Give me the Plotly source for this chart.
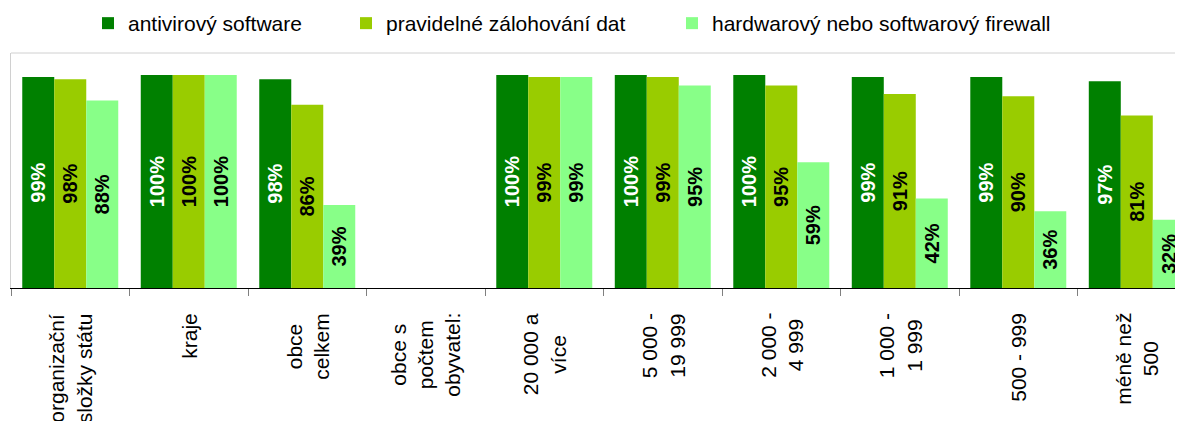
import plotly.graph_objects as go

categories = ["organizační složky státu", "kraje", "obce celkem", "obce s počtem obyvatel:",
              "20 000 a více", "5 000 - 19 999", "2 000 - 4 999", "1 000 - 1 999",
              "500 - 999", "méně než 500"]
tick_labels = ["organizační<br>složky státu", "kraje", "obce<br>celkem", "obce s<br>počtem<br>obyvatel:",
               "20 000 a<br>více", "5 000 -<br>19 999", "2 000 -<br>4 999", "1 000 -<br>1 999",
               "500 - 999", "méně než<br>500"]
series_names = ["antivirový software", "pravidelné zálohování dat",
                "hardwarový nebo softwarový firewall"]
antivir = [99, 100, 98, None, 100, 100, 100, 99, 99, 97]
zalohovani = [98, 100, 86, None, 99, 99, 95, 91, 90, 81]
firewall = [88, 100, 39, None, 99, 95, 59, 42, 36, 32]

colors = ["#008000", "#99CC00", "#88FF88"]
text_colors = ["white", "black", "black"]
FONT = "Liberation Sans, Arial, sans-serif"

OFF = 8  # default page body margin
W, H = 1183 - OFF, 421 - OFF
L, R, T, B = 11 - OFF, 0, 53 - OFF, 133
plot_w = W - L - R
plot_h = H - T - B

def px_x(p):
    return (p - OFF - L) / plot_w

def px_y(p):
    return (H - B + OFF - p) / plot_h

fig = go.Figure()
legend_ids = ["legend", "legend2", "legend3"]
for name, vals, col, tc, lg in zip(series_names, [antivir, zalohovani, firewall], colors, text_colors, legend_ids):
    fig.add_trace(go.Bar(
        x=categories, y=vals, name=name, legend=lg,
        marker=dict(color=col, line=dict(width=0)),
        text=[f"{v}%" if v is not None else None for v in vals],
        textposition="inside", insidetextanchor="middle", textangle=-90,
        constraintext="none",
        textfont=dict(family=FONT, size=20, color=tc, weight="bold"),
        hoverinfo="skip",
    ))

legend_text_px = [128, 386, 712]
legend_common = dict(orientation="h", xanchor="left", yanchor="middle",
                     font=dict(family=FONT, size=21, color="black"),
                     bgcolor="rgba(0,0,0,0)", borderwidth=0)
layout_legends = {}
for lg, tx in zip(legend_ids, legend_text_px):
    layout_legends[lg] = dict(x=px_x(tx - 40), y=px_y(23.5), **legend_common)

annotations = []
for cat, lab in zip(categories, tick_labels):
    annotations.append(dict(
        x=cat, xref="x", y=px_y(311), yref="paper",
        text=lab, showarrow=False, textangle=-90,
        xanchor="center", yanchor="top", align="center",
        font=dict(family=FONT, size=21, color="black"),
    ))

fig.update_layout(
    width=W, height=H,
    margin=dict(l=L, r=R, t=T, b=B, autoexpand=False),
    paper_bgcolor="white", plot_bgcolor="white",
    barmode="group", bargap=0.19, bargroupgap=0,
    showlegend=True,
    annotations=annotations,
    shapes=[dict(type="line", xref="paper", yref="paper", x0=0, x1=1, y0=1, y1=1,
                 line=dict(color="#D0D0D0", width=1))],
    xaxis=dict(type="category", range=[-0.5, 9.39], showticklabels=False,
               showline=True, linecolor="black", linewidth=1,
               ticks="outside", tickson="boundaries", ticklen=7, tickcolor="#808080",
               showgrid=False, zeroline=False, fixedrange=True),
    yaxis=dict(range=[0, 110.3], showticklabels=False, showgrid=False, zeroline=False,
               showline=True, linecolor="#D0D0D0", linewidth=1, ticks="", fixedrange=True),
    **layout_legends,
)

fig.write_html("out.html")
